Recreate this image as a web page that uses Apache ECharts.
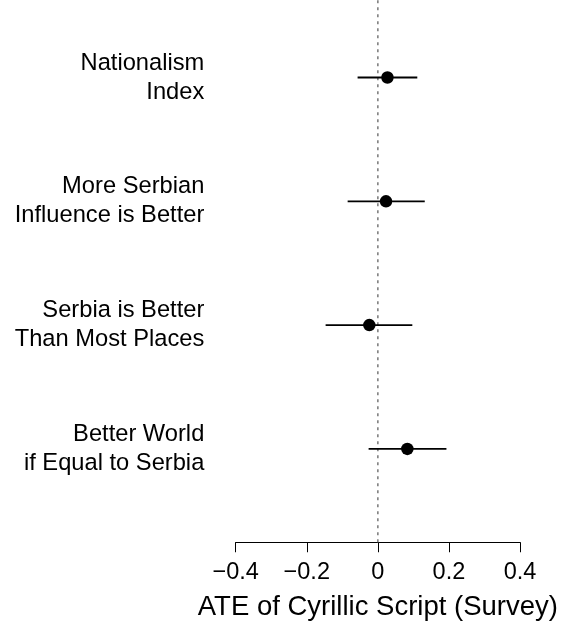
<!DOCTYPE html>
<html>
<head>
<meta charset="utf-8">
<script src="https://cdn.jsdelivr.net/npm/echarts@6/dist/echarts.min.js"></script>
<style>
  html, body { margin: 0; padding: 0; background: #ffffff; }
  #chart { width: 561px; height: 626px; }
</style>
</head>
<body>
<div id="chart"></div>
<script>
// Outcome labels, top to bottom
const outcomes = [
  'Nationalism\nIndex',
  'More Serbian\nInfluence is Better',
  'Serbia is Better\nThan Most Places',
  'Better World\nif Equal to Serbia'
];
// Row position of each outcome on the vertical scale
const rowPos = [4, 3, 2, 1];
// Point estimates and interval bounds
const estimate = [0.027, 0.023, -0.024, 0.083];
const lower = [-0.057, -0.085, -0.147, -0.026];
const upper = [0.111, 0.132, 0.097, 0.193];
// Horizontal axis ticks
const xTicks = [-0.4, -0.2, 0, 0.2, 0.4];

const font = '"Liberation Sans", Arial, Helvetica, sans-serif';
const yMin = 0.246, yMax = 4.626;

const fmtTick = v => {
  if (Math.abs(v) < 1e-9) return '0';
  const s = Math.abs(v).toFixed(1);
  return v < 0 ? '\u2212' + s : s;
};

const chart = echarts.init(document.getElementById('chart'), null, { renderer: 'canvas' });

chart.setOption({
  animation: false,
  backgroundColor: '#ffffff',
  grid: { left: 235.7, right: 41, top: 0, bottom: 79, containLabel: false },
  xAxis: {
    type: 'value',
    min: xTicks[0],
    max: xTicks[xTicks.length - 1],
    interval: 0.2,
    splitLine: { show: false },
    axisLine: { show: true, lineStyle: { color: '#000', width: 1 } },
    axisTick: { show: true, inside: false, length: 10, lineStyle: { color: '#000', width: 1 } },
    axisLabel: {
      fontFamily: font, fontSize: 23.5, color: '#000', margin: 18.5,
      lineHeight: 23.5, formatter: fmtTick
    },
    name: 'ATE of Cyrillic Script (Survey)',
    nameLocation: 'middle',
    nameGap: 51,
    nameTextStyle: { fontFamily: font, fontSize: 27.5, color: '#000', lineHeight: 27.5 }
  },
  yAxis: {
    type: 'value',
    min: yMin,
    max: yMax,
    splitLine: { show: false },
    axisLine: { show: false },
    axisTick: { show: false },
    axisLabel: {
      customValues: rowPos,
      fontFamily: font, fontSize: 23.7, color: '#000', lineHeight: 29,
      align: 'right', margin: 31.4,
      formatter: v => outcomes[rowPos.indexOf(Math.round(v))] || ''
    }
  },
  series: [
    {
      // zero reference line
      type: 'line',
      data: [[0, yMin], [0, yMax]],
      symbol: 'none',
      silent: true,
      z: 1,
      lineStyle: { color: '#808080', width: 1.6, type: [3, 4] }
    },
    {
      // interval segments
      type: 'custom',
      z: 2,
      data: rowPos.map((y, i) => [lower[i], upper[i], y]),
      renderItem: (params, api) => {
        const a = api.coord([api.value(0), api.value(2)]);
        const b = api.coord([api.value(1), api.value(2)]);
        return {
          type: 'line',
          shape: { x1: a[0], y1: a[1], x2: b[0], y2: b[1] },
          style: { stroke: '#000', lineWidth: 1.8 }
        };
      }
    },
    {
      type: 'scatter',
      z: 3,
      data: rowPos.map((y, i) => [estimate[i], y]),
      symbol: 'circle',
      symbolSize: 12.5,
      itemStyle: { color: '#000', borderWidth: 0, opacity: 1 }
    }
  ]
});
</script>
</body>
</html>
